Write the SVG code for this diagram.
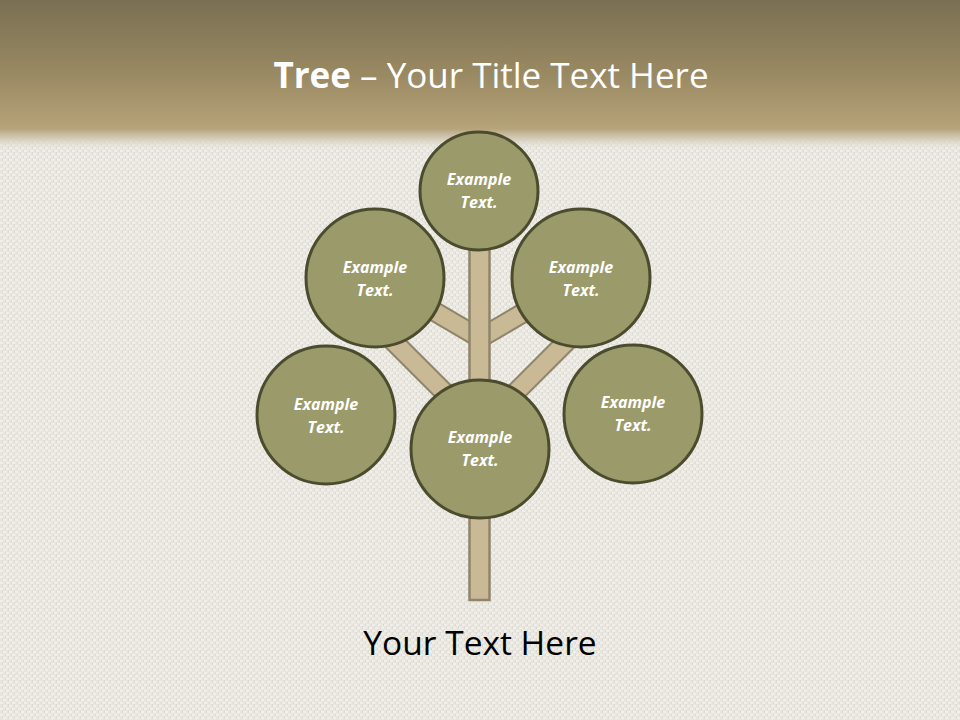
<svg xmlns="http://www.w3.org/2000/svg" width="960" height="720" viewBox="0 0 960 720">
  <defs>
    <linearGradient id="hdr" x1="0" y1="0" x2="0" y2="1">
      <stop offset="0" stop-color="#7a6f52"/>
      <stop offset="0.5" stop-color="#9a8a63"/>
      <stop offset="0.82" stop-color="#b3a077"/>
      <stop offset="0.86" stop-color="#b6a47c"/>
      <stop offset="0.93" stop-color="#d4cdbb" stop-opacity="0.9"/>
      <stop offset="1" stop-color="#e8e6df" stop-opacity="0"/>
    </linearGradient>
    <pattern id="linen" x="0" y="0" width="6" height="6" patternUnits="userSpaceOnUse">
      <rect width="6" height="6" fill="#e8e6df"/>
      <rect x="0" y="0" width="3" height="2" fill="#f1efea"/>
      <rect x="3" y="3" width="3" height="2" fill="#f1efea"/>
      <rect x="2" y="2" width="1" height="3" fill="#dcdad2"/>
      <rect x="5" y="0" width="1" height="2" fill="#dcdad2"/>
    </pattern>
    <style>
      .node circle { fill: #9b9a6a; stroke: #4b4b2e; stroke-width: 3; }
      .node text { font-family: "Open Sans", "Liberation Sans", sans-serif; font-size: 16px; font-weight: bold; font-style: italic; fill: #ffffff; text-anchor: middle; }
      .brOut { stroke: #8f856c; stroke-width: 21; fill: none; stroke-linecap: butt; }
      .brIn { stroke: #c9b994; stroke-width: 17; fill: none; stroke-linecap: butt; }
    </style>
  </defs>

  <rect width="960" height="720" fill="url(#linen)"/>
  <rect width="960" height="150" fill="url(#hdr)"/>

  <text x="491" y="88" font-family="Open Sans, Liberation Sans, sans-serif" font-size="35" fill="#ffffff" text-anchor="middle"><tspan font-weight="bold">Tree</tspan> – Your Title Text Here</text>

  <g id="connectors">
    <line class="brOut" x1="478" y1="337" x2="420" y2="303"/>
    <line class="brIn" x1="478" y1="337" x2="420" y2="303"/>
    <line class="brOut" x1="482" y1="337" x2="540" y2="303"/>
    <line class="brIn" x1="482" y1="337" x2="540" y2="303"/>
    <line class="brOut" x1="465" y1="413" x2="380" y2="328"/>
    <line class="brIn" x1="465" y1="413" x2="380" y2="328"/>
    <line class="brOut" x1="495" y1="413" x2="580" y2="328"/>
    <line class="brIn" x1="495" y1="413" x2="580" y2="328"/>
    <rect x="469.5" y="240" width="20" height="360" fill="#c9b994" stroke="#8f856c" stroke-width="2.5"/>
  </g>

  <g id="node-top" class="node">
    <circle cx="479" cy="191" r="59"/>
    <text x="479" y="185">Example</text>
    <text x="479" y="208">Text.</text>
  </g>
  <g id="node-upper-left" class="node">
    <circle cx="375" cy="278" r="69"/>
    <text x="375" y="273">Example</text>
    <text x="375" y="296">Text.</text>
  </g>
  <g id="node-upper-right" class="node">
    <circle cx="581" cy="278" r="69"/>
    <text x="581" y="273">Example</text>
    <text x="581" y="296">Text.</text>
  </g>
  <g id="node-lower-left" class="node">
    <circle cx="326" cy="415" r="69"/>
    <text x="326" y="410">Example</text>
    <text x="326" y="433">Text.</text>
  </g>
  <g id="node-lower-right" class="node">
    <circle cx="633" cy="414" r="69"/>
    <text x="633" y="408">Example</text>
    <text x="633" y="431">Text.</text>
  </g>
  <g id="node-center" class="node">
    <circle cx="480" cy="449" r="69"/>
    <text x="480" y="443">Example</text>
    <text x="480" y="466">Text.</text>
  </g>

  <text x="480" y="655" font-family="Open Sans, Liberation Sans, sans-serif" font-size="33.5" fill="#000000" text-anchor="middle">Your Text Here</text>
</svg>
